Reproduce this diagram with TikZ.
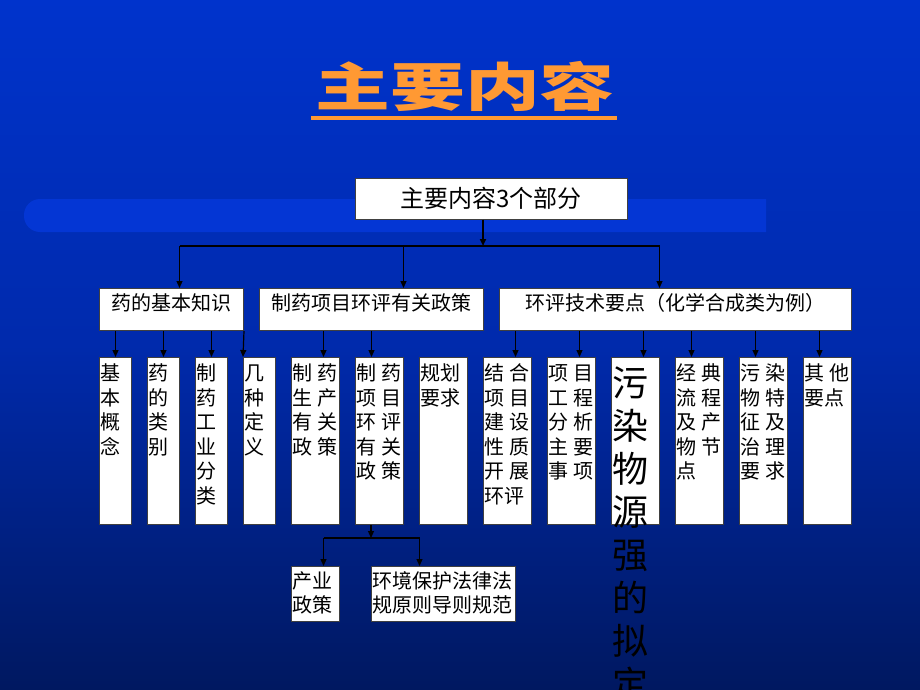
\documentclass[tikz,border=0pt]{standalone}
\usepackage{fontspec}
\setmainfont{Noto Sans CJK SC}
\usetikzlibrary{arrows.meta,positioning}

\newcommand{\duo}[2]{\makebox[25pt][l]{#1}#2}

\begin{document}
\begin{tikzpicture}[x=1pt, y=-1pt, >={Triangle[length=7pt,width=6pt]},
        every node/.style={font=\fontsize{20}{24.5}\selectfont},
        link/.style={line width=1.2pt, black},
        bold link/.style={line width=2.6pt, black},
        headbox/.style={draw=black!75, fill=white, line width=1pt, inner sep=1pt, anchor=north west, align=center, text height=20.5pt, text depth=19.5pt},
        cell/.style={draw=black!75, fill=white, line width=1pt, inner sep=1pt, anchor=north west, align=left, text height=22pt, text depth=143pt},
        leaf/.style={draw=black!75, fill=white, line width=1pt, inner sep=1pt, anchor=north west, align=left, text height=20.5pt, text depth=32.5pt}]
        \definecolor{bgtop}{RGB}{0,51,204}
        \definecolor{bgmid}{RGB}{0,42,172}
        \definecolor{bgbot}{RGB}{0,24,96}
        \definecolor{bandblue}{RGB}{4,54,212}
        \definecolor{titleorange}{RGB}{255,153,51}

        \useasboundingbox (0,0) rectangle (920,690);
        \clip (0,0) rectangle (920,690);

        % Slide background
        \shade[top color=bgtop, bottom color=bgbot, middle color=bgmid] (0,0) rectangle (920,690);
        % Light band behind the top box
        \fill[bandblue] (766,199) [rounded corners=16pt] -- (24,199) -- (24,232) [sharp corners] -- (766,232) -- cycle;

        % Title with underline
        \node[font=\fontsize{52}{52}\selectfont\bfseries, text=titleorange, inner sep=0pt] (title) at (465,86) {\scalebox{1.44}[1]{主要内容}};
        \draw[titleorange, line width=4pt] (311,118) -- (617,118);

        % Top box
        \node[draw=black!75, fill=white, line width=1pt, minimum width=272pt, minimum height=41pt, font=\fontsize{24}{24}\selectfont] (main) at (491,198.5) {主要内容3个部分};
        \coordinate (hub) at (483,246);

        % Three parts
        \node[headbox, text width=142pt] (know) at (99,288) {药的基本知识};
        \node[headbox, text width=222pt] (policy) at (259,288) {制药项目环评有关政策};
        \node[headbox, text width=350pt] (tech) at (499,288) {环评技术要点（化学合成类为例）};

        % Items under each part
        \node[cell, text width=30pt] (concept) at (99,357) {基\\本\\概\\念};
        \node[cell, text width=30pt] (kinds) at (147,357) {药\\的\\类\\别};
        \node[cell, text width=30pt] (industry) at (195,357) {制\\药\\工\\业\\分\\类};
        \node[cell, text width=30pt] (defs) at (243,357) {几\\种\\定\\义};
        \node[cell, text width=46pt] (prodpol) at (291,357) {\duo{制}{药}\\\duo{生}{产}\\\duo{有}{关}\\\duo{政}{策}};
        \node[cell, text width=46pt] (projpol) at (355,357) {\duo{制}{药}\\\duo{项}{目}\\\duo{环}{评}\\\duo{有}{关}\\\duo{政}{策}};
        \node[cell, text width=46pt] (plan) at (419,357) {规划\\要求};
        \node[cell, text width=46pt] (combine) at (483,357) {\duo{结}{合}\\\duo{项}{目}\\\duo{建}{设}\\\duo{性}{质}\\\duo{开}{展}\\环评};
        \node[cell, text width=46pt] (analysis) at (547,357) {\duo{项}{目}\\\duo{工}{程}\\\duo{分}{析}\\\duo{主}{要}\\\duo{事}{项}};
        \node[cell, text width=46pt, font=\fontsize{36}{43}\selectfont, text height=38pt, text depth=127pt] (source) at (611,357) {污\\染\\物\\源\\强\\的\\拟\\定};
        \node[cell, text width=46pt] (flow) at (675,357) {\duo{经}{典}\\\duo{流}{程}\\\duo{及}{产}\\\duo{物}{节}\\点};
        \node[cell, text width=46pt] (pollut) at (739,357) {\duo{污}{染}\\\duo{物}{特}\\\duo{征}{及}\\\duo{治}{理}\\\duo{要}{求}};
        \node[cell, text width=46pt] (other) at (803,357) {\duo{其}{他}\\要点};

        % Policies split
        \coordinate (split) at (371,538);
        \node[leaf, text width=46pt] (indus) at (291,566) {产业\\政策};
        \node[leaf, text width=142pt] (law) at (371,566) {环境保护法律法\\规原则导则规范};

        % Top box to the three parts
        \draw[bold link, ->] (main.south -| hub) -- (hub);
        \draw[link] ([xshift=8pt]know.north |- hub) -- ([xshift=-16pt]tech.north |- hub);
        \draw[link, ->] ([xshift=8pt]know.north |- hub) -- ([xshift=8pt]know.north);
        \draw[link, ->] ([xshift=32pt]policy.north |- hub) -- ([xshift=32pt]policy.north);
        \draw[link, ->] ([xshift=-16pt]tech.north |- hub) -- ([xshift=-16pt]tech.north);

        % Parts to items
        \draw[link, ->] (concept.north |- know.south) -- (concept.north);
        \draw[link, ->] (kinds.north |- know.south) -- (kinds.north);
        \draw[link, ->] (industry.north |- know.south) -- (industry.north);
        \draw[link, ->] (know.south east) -- (defs.north west);
        \draw[link, ->] ([xshift=8pt]prodpol.north |- policy.south) -- ([xshift=8pt]prodpol.north);
        \draw[link, ->] ([xshift=-8pt]projpol.north |- policy.south) -- ([xshift=-8pt]projpol.north);
        \draw[link, ->] ([xshift=8pt]combine.north |- tech.south) -- ([xshift=8pt]combine.north);
        \draw[link, ->] ([xshift=8pt]analysis.north |- tech.south) -- ([xshift=8pt]analysis.north);
        \draw[link, ->] ([xshift=8pt]source.north |- tech.south) -- ([xshift=8pt]source.north);
        \draw[link, ->] ([xshift=-8pt]flow.north |- tech.south) -- ([xshift=-8pt]flow.north);
        \draw[link, ->] ([xshift=-8pt]pollut.north |- tech.south) -- ([xshift=-8pt]pollut.north);
        \draw[link, ->] ([xshift=-8pt]other.north |- tech.south) -- ([xshift=-8pt]other.north);

        % Project policy to its two leaves
        \draw[link, ->] (projpol.south -| split) -- (split);
        \draw[link] ([xshift=8pt]indus.north |- split) -- ([xshift=-24pt]law.north |- split);
        \draw[link, ->] ([xshift=8pt]indus.north |- split) -- ([xshift=8pt]indus.north);
        \draw[link, ->] ([xshift=-24pt]law.north |- split) -- ([xshift=-24pt]law.north);
    \end{tikzpicture}
\end{document}
